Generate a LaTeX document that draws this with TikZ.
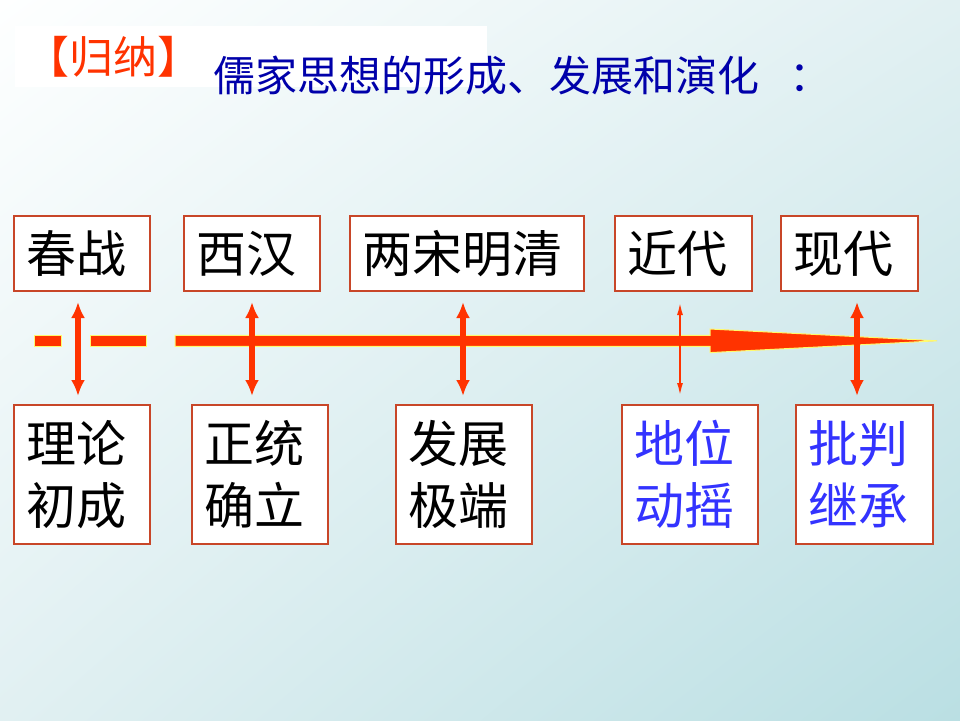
\documentclass[tikz,border=0pt]{standalone}
\usepackage{fontspec}
\usetikzlibrary{arrows.meta,shadings}
\newfontfamily\cjk{Noto Sans CJK SC}
\definecolor{barred}{RGB}{255,51,0}
\definecolor{barglow}{RGB}{255,250,110}
\definecolor{boxline}{RGB}{200,70,40}
\definecolor{titleblue}{RGB}{0,0,170}
\definecolor{textblue}{RGB}{51,51,255}
\definecolor{bgtl}{RGB}{254,255,255}
\definecolor{bgmid}{RGB}{225,240,242}
\definecolor{bgbr}{RGB}{186,223,227}

\begin{document}
\begin{tikzpicture}[x=1pt,y=-1pt,
    period/.style={draw=boxline, line width=1.3pt, fill=white, minimum height=75pt,
        inner xsep=12pt, inner ysep=0pt, text width=#1, align=left,
        font=\cjk\fontsize{50}{60}\selectfont},
    result/.style={period=#1, minimum height=139pt, font=\cjk\fontsize{50}{62}\selectfont},
    twoway/.style={draw=barred, line width=6pt,
        {Latex[length=16pt,width=14pt]}-{Latex[length=16pt,width=14pt]}},
    thinway/.style={draw=barred, line width=2pt,
        {Latex[length=13pt,width=6pt]}-{Latex[length=13pt,width=6pt]}},
    bar/.style={fill=barred, draw=barglow, line width=1pt}]

    \shade[upper left=bgtl, upper right=bgmid, lower left=bgmid, lower right=bgbr] (0,0) rectangle (960,720);
    \fill[white] (15,26) rectangle (487,87);

    \node[text=barred, inner sep=0, font=\cjk\fontsize{44}{44}\selectfont] (guina) at (113,57) {【归纳】};
    \node[anchor=west, inner sep=0, text=titleblue, font=\cjk\fontsize{42}{42}\selectfont] (title) at (213,76) {儒家思想的形成、发展和演化\hspace{30pt}：};

    \node[period=112pt] (chunzhan) at (82,253.5) {春战};
    \node[period=112pt] (xihan) at (252,253.5) {西汉};
    \node[period=210pt] (liangsong) at (467,253.5) {两宋明清};
    \node[period=113pt] (jindai) at (683.5,253.5) {近代};
    \node[period=113pt] (xiandai) at (849.5,253.5) {现代};

    \node[result=112pt] (lilun) at (82,474.5) {理论\\初成};
    \node[result=112pt] (zhengtong) at (260,474.5) {正统\\确立};
    \node[result=112pt] (fazhan) at (464,474.5) {发展\\极端};
    \node[result=112pt, text=textblue] (diwei) at (690,474.5) {地位\\动摇};
    \node[result=113pt, text=textblue] (pipan) at (864.5,474.5) {批判\\继承};

    \draw[bar] (34,335.3) rectangle (61,346.3);
    \draw[bar] (90,335.3) rectangle (146,346.3);
    \draw[bar] (175,335.3) -- (710,335.3) -- (710,329) -- (937,340.8)
        -- (710,352.6) -- (710,346.3) -- (175,346.3) -- cycle;

    \foreach \x [count=\i] in {78,252,463,680,857} {
        \coordinate (up\i) at (\x,302);
        \coordinate (dn\i) at (\x,396);
    }
    \foreach \i in {1,2,3,5}
        \draw[twoway] (up\i) -- (dn\i);
    \draw[thinway] (up4) -- (dn4);
\end{tikzpicture}
\end{document}
